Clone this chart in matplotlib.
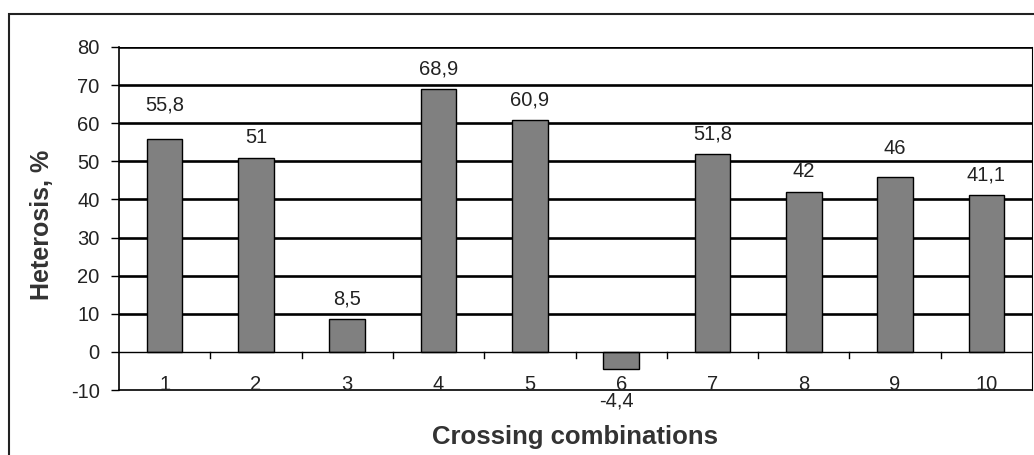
import matplotlib.pyplot as plt
from matplotlib.patches import Rectangle

plt.rcParams['font.family'] = ['Liberation Sans', 'DejaVu Sans']
plt.rcParams['axes.unicode_minus'] = False

# data
combos = [1, 2, 3, 4, 5, 6, 7, 8, 9, 10]
heterosis = [55.8, 51, 8.5, 68.9, 60.9, -4.4, 51.8, 42, 46, 41.1]
bar_labels = ['55,8', '51', '8,5', '68,9', '60,9', '-4,4', '51,8', '42', '46', '41,1']
y_ticks = [-10, 0, 10, 20, 30, 40, 50, 60, 70, 80]

# labels that were dragged a little higher in the original
label_nudge = {1: 3.6, 9: 2.0}

fig = plt.figure(figsize=(10.34, 4.55), dpi=100)
fig.patch.set_facecolor('white')

# outer chart frame
fig.patches.append(Rectangle((9 / 1034, -0.05), 1.1, 1 - 14 / 455 + 0.05,
                             transform=fig.transFigure, fill=False,
                             edgecolor='#222222', linewidth=1.5))

ax = fig.add_axes([119 / 1034, 1 - 390 / 455, (1032 - 119) / 1034, (390 - 47) / 455])

ax.bar(combos, heterosis, width=0.39, color='#808080', edgecolor='black',
       linewidth=1.0, zorder=3)

# horizontal gridlines
for y in y_ticks[2:]:
    ax.axhline(y, color='black', linewidth=1.9, zorder=2)
ax.axhline(0, color='black', linewidth=1.0, zorder=4)

txt = '#222222'
# value labels
for x, v, lab in zip(combos, heterosis, bar_labels):
    if v >= 0:
        ax.text(x, v + 5.3 + label_nudge.get(x, 0), lab, ha='center', va='center',
                fontsize=14.5, color=txt)
    else:
        ax.text(x - 0.05, -10.5, lab, ha='center', va='top', fontsize=14.5, color=txt,
                clip_on=False)

# category ticks between bars on the zero line
for b in range(1, 10):
    ax.plot([b + 0.5, b + 0.5], [0, -1.6], color='black', linewidth=1.0, zorder=4)
for x in combos:
    ax.text(x, -10.1, str(x), ha='center', va='baseline', fontsize=14.5, color=txt)

ax.set_xlim(0.5, 10.5)
ax.set_ylim(-10, 80)
ax.set_yticks(y_ticks)
ax.set_xticks([])
ax.tick_params(axis='y', direction='out', length=6, width=1, labelsize=14.5,
               colors='black', labelcolor=txt, pad=8)

for side in ['left', 'bottom']:
    ax.spines[side].set_linewidth(1.2)
ax.spines['top'].set_visible(False)
ax.spines['right'].set_linewidth(0.8)

fig.text(42 / 1034, 1 - 225 / 455, 'Heterosis, %', rotation=90, ha='center', va='center',
         fontsize=18, fontweight='bold', color='#333333')
fig.text((119 + 1032) / 2 / 1034, 1 - 437 / 455, 'Crossing combinations', ha='center',
         va='center', fontsize=18.5, fontweight='bold', color='#333333')

fig.savefig('out.png', dpi=100)
